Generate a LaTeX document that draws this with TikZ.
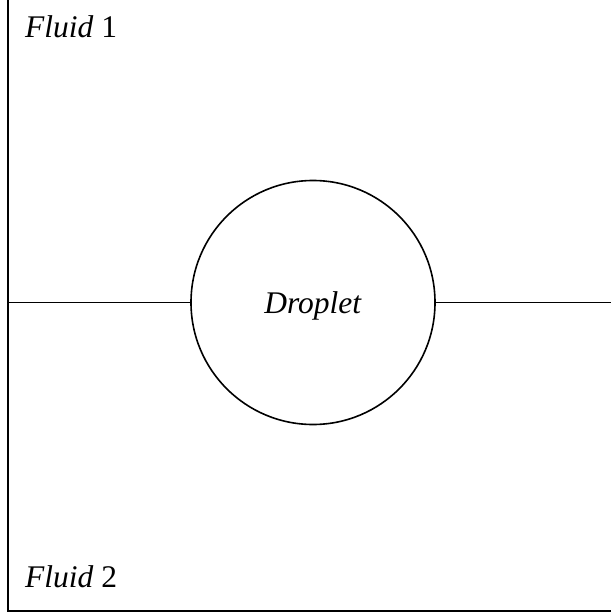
\documentclass[tikz,border=0pt]{standalone}
\usepackage{fontspec}
\setmainfont{Liberation Serif}
\begin{document}
\begin{tikzpicture}[x=1pt,y=-1pt,
  wall/.style={line width=1.6pt,black},
  label/.style={inner sep=0pt,font=\fontsize{31.5}{36}\selectfont}]
  \useasboundingbox (0,0) rectangle (611,613);
  % container walls: left side and bottom
  \coordinate (tl) at (8,0);
  \coordinate (bl) at (8,611);
  \coordinate (br) at (611,611);
  \draw[wall] (tl) -- (bl) -- (br);
  % droplet on the interface
  \node[draw,circle,line width=1.6pt,minimum size=244pt,inner sep=0pt] (drop) at (313,302.5) {};
  \node[label,anchor=base] (dtext) at (313,313) {\textit{Droplet}};
  % interface between the two fluids
  \coordinate (il) at (8,302.5);
  \coordinate (ir) at (611,302.5);
  \draw[wall] (il) -- (drop.west);
  \draw[wall] (drop.east) -- (ir);
  % fluid labels
  \node[label,anchor=base west] (f1) at (25,37) {\textit{Fluid} 1};
  \node[label,anchor=base west] (f2) at (25,587) {\textit{Fluid} 2};
\end{tikzpicture}
\end{document}
